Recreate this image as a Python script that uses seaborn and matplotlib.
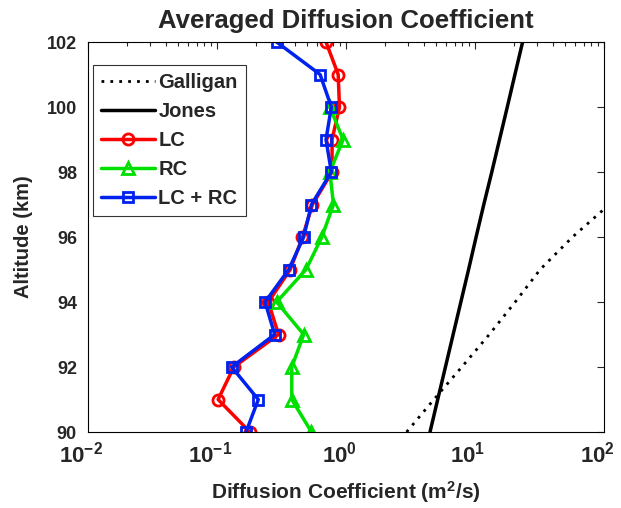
import matplotlib
matplotlib.use('Agg')
import matplotlib.pyplot as plt
import matplotlib.transforms as mtrans
import numpy as np
import seaborn as sns
from matplotlib.ticker import LogLocator, FixedLocator, FuncFormatter, NullFormatter

# altitude (km)
alt = [90, 91, 92, 93, 94, 95, 96, 97, 98, 99, 100, 101, 102]
alt_rc = [90, 91, 92, 93, 94, 95, 96, 97, 98, 99, 100]

# averaged diffusion coefficient (m^2/s)
lc = [0.18, 0.102, 0.135, 0.30, 0.25, 0.37, 0.46, 0.55, 0.78, 0.78, 0.89, 0.87, 0.70]
rc = [0.54, 0.38, 0.38, 0.47, 0.29, 0.49, 0.65, 0.80, 0.75, 0.95, 0.75]
lcrc = [0.168, 0.209, 0.13, 0.28, 0.236, 0.36, 0.47, 0.54, 0.77, 0.70, 0.77, 0.63, 0.29]

# model curves
alt_galligan = [90, 91, 92, 93, 94, 95, 96, 97, 98]
galligan = [2.95, 4.8, 7.9, 12.9, 20.5, 32, 57, 110, 210]
alt_jones = [90, 91, 92, 93, 94, 95, 96, 97, 98, 99, 100, 101, 102]
jones = [4.48, 5.14, 5.90, 6.77, 7.77, 8.92, 10.2, 11.7, 13.5, 15.5, 17.8, 20.4, 23.4]

sns.set_style('white')
plt.rcParams['font.family'] = ['Liberation Sans', 'DejaVu Sans']
plt.rcParams['font.weight'] = 'bold'
plt.rcParams['mathtext.fontset'] = 'custom'
plt.rcParams['mathtext.rm'] = 'Liberation Sans:bold'
plt.rcParams['mathtext.bf'] = 'Liberation Sans:bold'
plt.rcParams['mathtext.it'] = 'Liberation Sans:bold'

fig, ax = plt.subplots(figsize=(6.21, 5.08), dpi=100)
plt.subplots_adjust(left=0.1417, right=0.9726, top=0.9173, bottom=0.1496)

sns.lineplot(x=galligan, y=alt_galligan, sort=False, estimator=None, color='black',
             linestyle=(0, (1, 2.2)), linewidth=2, label='Galligan', ax=ax)
sns.lineplot(x=jones, y=alt_jones, sort=False, estimator=None, color='black',
             linewidth=2.5, label='Jones', ax=ax)
sns.lineplot(x=lc, y=alt, sort=False, estimator=None, color='#ff0000', linewidth=2.5,
             marker='o', markersize=8, markerfacecolor='none', markeredgecolor='#ff0000',
             markeredgewidth=2, label='LC', ax=ax)
sns.lineplot(x=rc, y=alt_rc, sort=False, estimator=None, color='#00e000', linewidth=2.5,
             marker='^', markersize=8, markerfacecolor='none', markeredgecolor='#00e000',
             markeredgewidth=2, label='RC', ax=ax)
sns.lineplot(x=lcrc, y=alt, sort=False, estimator=None, color='#0022ee', linewidth=2.5,
             marker='s', markersize=7, markerfacecolor='none', markeredgecolor='#0022ee',
             markeredgewidth=2, label='LC + RC', ax=ax)

ax.set_xscale('log')
ax.set_xlim(1e-2, 1e2)
ax.set_ylim(90, 102)
ax.yaxis.set_major_locator(FixedLocator(np.arange(90, 103, 2)))
ax.xaxis.set_major_locator(LogLocator(base=10, numticks=10))
ax.xaxis.set_minor_locator(LogLocator(base=10, subs=np.arange(2, 10), numticks=20))
ax.xaxis.set_minor_formatter(NullFormatter())
ax.xaxis.set_major_formatter(FuncFormatter(lambda v, p: r'$10^{%d}$' % round(np.log10(v))))

ax.tick_params(which='both', direction='in', top=True, right=True)
ax.tick_params(which='major', length=5, width=0.8)
ax.tick_params(which='minor', length=3, width=0.8)
ax.tick_params(axis='y', labelsize=13, pad=8)
ax.tick_params(axis='x', labelsize=16, pad=7)
for lab in ax.get_yticklabels():
    lab.set_fontweight('bold')
# MATLAB style: base "10" sits left of the tick
shift = mtrans.ScaledTranslation(-7 / 100, 0, fig.dpi_scale_trans)
for lab in ax.get_xticklabels():
    lab.set_transform(lab.get_transform() + shift)
for s in ax.spines.values():
    s.set_linewidth(0.8)
    s.set_color('black')

ax.set_title('Averaged Diffusion Coefficient', fontsize=18.5, fontweight='bold', pad=10)
ax.set_xlabel(r'Diffusion Coefficient (m$^{2}$/s)', fontsize=15, fontweight='bold', labelpad=8)
ax.set_ylabel('Altitude (km)', fontsize=14.5, fontweight='bold', labelpad=10)

leg = ax.legend(loc='upper left', bbox_to_anchor=(0.0097, 0.941), fontsize=14.5,
                frameon=True, fancybox=False, handlelength=2.7, handletextpad=0.15,
                borderpad=0.4, labelspacing=0.5, borderaxespad=0)
leg.get_frame().set_edgecolor('black')
leg.get_frame().set_linewidth(0.8)
for t in leg.get_texts():
    t.set_fontweight('bold')

plt.savefig('out.png', dpi=100)
